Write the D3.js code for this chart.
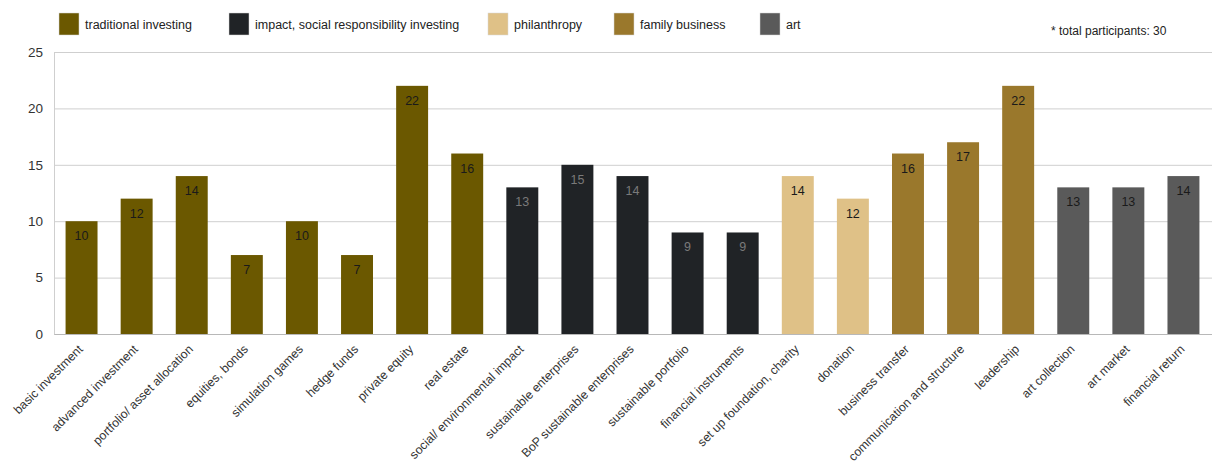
<!DOCTYPE html>
<html><head><meta charset="utf-8">
<script src="https://cdn.jsdelivr.net/npm/d3@7"></script>
<style>body{margin:0;background:#fff}svg{display:block;font-family:"Liberation Sans",Arial,sans-serif}</style>
</head><body><div id="c"></div>
<script>
const categories = ["basic investment","advanced investment","portfolio/ asset allocation","equities, bonds","simulation games","hedge funds","private equity","real estate","social/ environmental impact","sustainable enterprises","BoP sustainable enterprises","sustainable portfolio","financial instruments","set up foundation, charity","donation","business transfer","communication and structure","leadership","art collection","art market","financial return"];
const values = [10,12,14,7,10,7,22,16,13,15,14,9,9,14,12,16,17,22,13,13,14];
const groups = ["traditional investing","traditional investing","traditional investing","traditional investing","traditional investing","traditional investing","traditional investing","traditional investing","impact, social responsibility investing","impact, social responsibility investing","impact, social responsibility investing","impact, social responsibility investing","impact, social responsibility investing","philanthropy","philanthropy","family business","family business","family business","art","art","art"];
const groupNames = ["traditional investing","impact, social responsibility investing","philanthropy","family business","art"];
const groupColors = ["#6b5800","#202326","#dfc187","#9a782c","#5a5a5a"];
const labelColors = ["#1a1a1a","#7a7a7a","#1a1a1a","#1a1a1a","#1a1a1a"];
const yTicks = [0,5,10,15,20,25];
const note = "* total participants: 30";

const W=1212,H=466, L=54, R=1211, T=52, B=334;
const svg=d3.select("#c").append("svg").attr("width",W).attr("height",H);
const x=d3.scaleBand().domain(categories).range([L,R]).paddingInner(0.42).paddingOuter(0.21);
const y=d3.scaleLinear().domain([0,25]).range([B,T]);
const color=d3.scaleOrdinal().domain(groupNames).range(groupColors);
const lcolor=d3.scaleOrdinal().domain(groupNames).range(labelColors);

// grid
svg.append("g").selectAll("line").data(yTicks).join("line")
  .attr("x1",L).attr("x2",W).attr("y1",d=>y(d)+0.5).attr("y2",d=>y(d)+0.5)
  .attr("stroke",d=>d===0?"#b8b8b8":"#cfcfcf").attr("stroke-width",1);
svg.append("line").attr("x1",L+0.5).attr("x2",L+0.5).attr("y1",T).attr("y2",B+0.5).attr("stroke","#cfcfcf");

// y axis
const ya=svg.append("g").attr("transform",`translate(${L-11},0)`).call(d3.axisLeft(y).tickValues(yTicks).tickSize(0).tickPadding(0));
ya.select(".domain").remove();
ya.selectAll("text").attr("font-size",13.5).attr("fill","#333").attr("font-family","Liberation Sans, Arial, sans-serif");

// bars
svg.append("g").selectAll("rect").data(categories).join("rect")
  .attr("x",d=>x(d)).attr("width",x.bandwidth())
  .attr("y",(d,i)=>y(values[i])).attr("height",(d,i)=>B-y(values[i]))
  .attr("fill",(d,i)=>color(groups[i]));
svg.append("g").selectAll("text").data(categories).join("text")
  .attr("x",d=>x(d)+x.bandwidth()/2).attr("y",(d,i)=>y(values[i])+19)
  .attr("text-anchor","middle").attr("font-size",12.5)
  .attr("fill",(d,i)=>lcolor(groups[i])).text((d,i)=>values[i]);

// x axis labels
const xa=svg.append("g").attr("transform",`translate(0,${B})`).call(d3.axisBottom(x).tickSize(0).tickPadding(0));
xa.select(".domain").remove();
xa.selectAll("text").attr("font-size",12.3).attr("fill","#333").attr("font-family","Liberation Sans, Arial, sans-serif")
  .attr("text-anchor","end").attr("dy",0).attr("transform","translate(2,16) rotate(-45)").attr("y",0);

// legend
const lx=[59,229,488,614,760];
const lg=svg.append("g").selectAll("g").data(groupNames).join("g").attr("transform",(d,i)=>`translate(${lx[i]},13)`);
lg.append("rect").attr("width",20).attr("height",22).attr("fill",d=>color(d)).attr("stroke","#d8d8d8").attr("stroke-width",0.5);
lg.append("text").attr("x",26).attr("y",16).attr("font-size",12.5).attr("fill","#222").text(d=>d);
svg.append("text").attr("x",1051).attr("y",35).attr("font-size",12).attr("fill","#222").text(note);
</script></body></html>
